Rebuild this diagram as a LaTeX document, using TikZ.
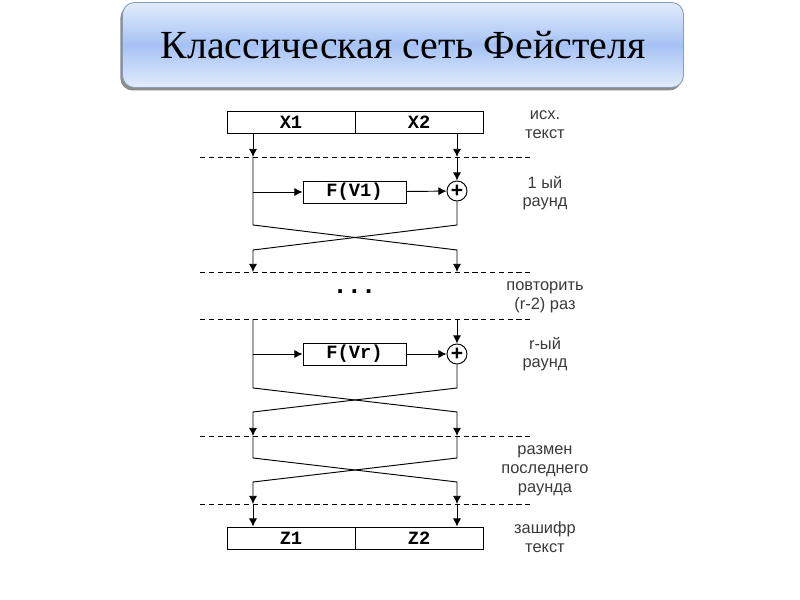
\documentclass[tikz,border=0pt]{standalone}
\usepackage{fontspec}
\setmainfont{Liberation Serif}
\setsansfont{Liberation Sans}
\setmonofont{Liberation Mono}
\usetikzlibrary{arrows.meta,shadows}
\definecolor{titletop}{HTML}{E2ECFC}
\definecolor{titlemid}{HTML}{A6C2F4}
\definecolor{titleedge}{HTML}{8C9DB8}
\definecolor{notegray}{HTML}{3A3A3A}
\tikzset{
  titlebox/.style={draw=titleedge, rounded corners=0.36cm, minimum width=16.83cm,
    minimum height=2.55cm, top color=titletop, bottom color=titletop, middle color=titlemid,
    drop shadow={shadow xshift=-0.06cm, shadow yshift=-0.09cm, fill=black!45, opacity=1},
    font=\fontsize{34}{38}\selectfont},
  halfbox/.style={draw, minimum width=3.84cm, minimum height=0.66cm, inner sep=0pt,
    font=\ttfamily\bfseries\fontsize{16}{16}\selectfont},
  fbox/.style={draw, minimum width=3.09cm, minimum height=0.66cm, inner sep=0pt,
    font=\ttfamily\bfseries\fontsize{16}{16}\selectfont},
  xorop/.style={draw, circle, minimum size=0.6cm, inner sep=0pt,
    font=\sffamily\bfseries\fontsize{18}{18}\selectfont},
  note/.style={align=center, text=notegray, font=\sffamily\fontsize{14}{16}\selectfont},
  sep/.style={dashed, dash pattern=on 4.5pt off 3pt},
  arr/.style={-{Latex[length=7pt,width=7pt]}}
}
\begin{document}
\begin{tikzpicture}[x=0.03cm,y=-0.03cm,line width=0.8pt]
  \useasboundingbox (0,0) rectangle (800,600);
  \node[titlebox] (title) at (403,45) {Классическая сеть Фейстеля};
  \draw
    (291,122) node[halfbox] (x1){X1}
    (419,122) node[halfbox] (x2){X2}
    (354.5,192) node[fbox] (f1){F(V1)}
    (457,191) node[xorop] (xor1){+}
    (354.5,292) node[font=\sffamily\bfseries\fontsize{22}{22}\selectfont] (dots){.\hspace{6pt}.\hspace{6pt}.}
    (354.5,354) node[fbox] (f2){F(Vr)}
    (457,354) node[xorop] (xor2){+}
    (291,538) node[halfbox] (z1){Z1}
    (419,538) node[halfbox] (z2){Z2};
  \draw
    (545,125) node[note] (n1){исх.\\текст}
    (545,193) node[note] (n2){1 ый\\раунд}
    (545,297) node[note] (n3){повторить\\(r-2) раз}
    (545,354) node[note] (n4){r-ый\\раунд}
    (545,471) node[note] (n5){размен\\последнего\\раунда}
    (545,537) node[note] (n6){зашифр\\текст};
  \foreach \y in {157,272,319,436,504}
    \draw[sep] (200,\y) -- (530,\y);
  \coordinate (l0) at (253,133);
  \coordinate (r0) at (457,133);
  \coordinate (l1) at (253,157);
  \coordinate (r1) at (457,157);
  \coordinate (l2) at (253,272);
  \coordinate (r2) at (457,272);
  \coordinate (l3) at (253,319);
  \coordinate (r3) at (457,319);
  \coordinate (l4) at (253,436);
  \coordinate (r4) at (457,436);
  \coordinate (l5) at (253,504);
  \coordinate (r5) at (457,504);
  \begin{scope}[arr]
    \draw (l0) to (l1);
    \draw (r0) to (r1);
    \draw (r1) to (xor1);
    \draw (l1 |- f1) to (f1);
    \draw (f1) to (xor1);
    \draw (l1) -- (253,225) -- (457,250) -- (r2);
    \draw (xor1) -- (457,225) -- (253,250) -- (l2);
    \draw (r3) to (xor2);
    \draw (l3 |- f2) to (f2);
    \draw (f2) to (xor2);
    \draw (l3) -- (253,388) -- (457,412) -- (r4);
    \draw (xor2) -- (457,388) -- (253,412) -- (l4);
    \draw (l4) -- (253,458) -- (457,482) -- (r5);
    \draw (r4) -- (457,458) -- (253,482) -- (l5);
    \draw (l5) to (l5 |- z1.north);
    \draw (r5) to (r5 |- z2.north);
  \end{scope}
\end{tikzpicture}
\end{document}
